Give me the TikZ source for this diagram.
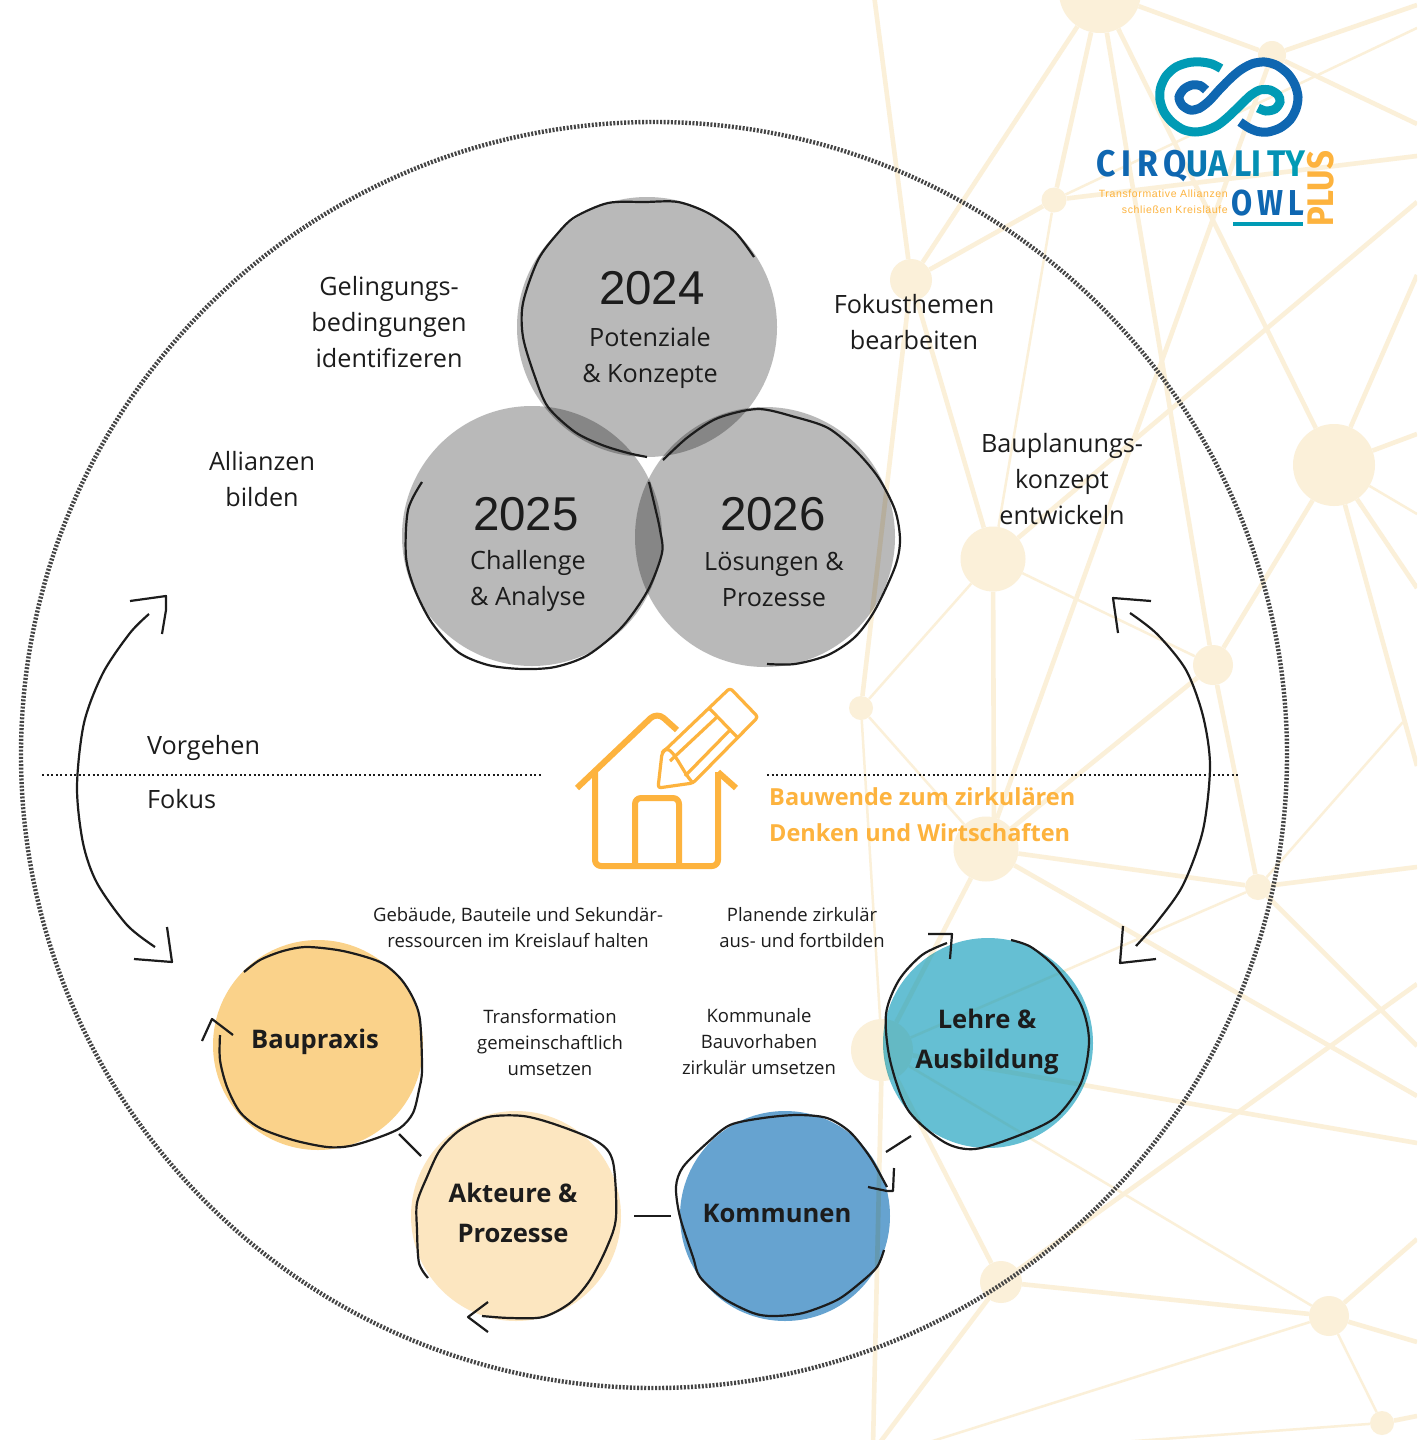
\documentclass[tikz,border=0pt]{standalone}
\usepackage{fontspec}
\setmainfont{Open Sans}
\newfontfamily\yearfont{Liberation Sans}
\newfontfamily\logofont[LetterSpace=17]{Fira Sans}
\newfontfamily\plusfont{Fira Sans}
\newfontfamily\claimfont[LetterSpace=6]{Liberation Sans}
\definecolor{netcream}{HTML}{FBF0D9}
\definecolor{inkdark}{HTML}{1C1C1C}
\definecolor{ringgrey}{HTML}{444444}
\definecolor{yeargrey}{HTML}{B9B9B9}
\definecolor{bauorange}{HTML}{FAD28A}
\definecolor{aktcream}{HTML}{FCE6C0}
\definecolor{komblue}{HTML}{66A3D0}
\definecolor{lehteal}{HTML}{65BFD3}
\definecolor{wendeorange}{HTML}{FDB33E}
\definecolor{logoteal}{HTML}{009BB5}
\definecolor{logoblue}{HTML}{0F67B1}
\tikzset{
  netthick/.style={draw=netcream,line width=4.6},
  netthin/.style={draw=netcream,line width=2.5},
  netnode/.style={circle,fill=netcream,inner sep=0,minimum size=#1},
  yearcircle/.style={circle,fill=yeargrey,inner sep=0,minimum size=260},
  focuscircle/.style={circle,fill=#1,inner sep=0,minimum size=210},
  sketch/.style={draw=inkdark,line width=2.2,line join=round},
  bridge/.style={draw=inkdark,line width=2.2},
  cuttext/.style={text=inkdark,align=center,font=\fontsize{25.2}{36}\selectfont},
  yeartext/.style={text=inkdark,font=\yearfont\fontsize{47.5}{50}\selectfont},
  smalltext/.style={text=inkdark,align=center,font=\fontsize{18.5}{26}\selectfont},
  focustext/.style={text=inkdark,align=center,font=\bfseries\fontsize{25.6}{39.5}\selectfont},
  iconline/.style={draw=wendeorange,line width=6,line join=round},
  pencilline/.style={draw=wendeorange,line width=3.2,line join=round}
}
\begin{document}
\begin{tikzpicture}[x=1pt,y=-1pt]
        \useasboundingbox (0,0) rectangle (1417,1440);
        \fill[white] (0,0) rectangle (1417,1440);
        \begin{scope}
          \clip (0,0) rectangle (1417,1440);
          \node[netnode=82] (n1)  at (1100,-8) {};
          \node[netnode=28] (n2)  at (1272,55) {};
          \node[netnode=25] (n3)  at (1054,200) {};
          \node[netnode=42] (n4)  at (911,280) {};
          \node[netnode=65] (n5)  at (993,559) {};
          \node[netnode=82] (n6)  at (1334,465) {};
          \node[netnode=40] (n7)  at (1213,665) {};
          \node[netnode=24] (n8)  at (861,708) {};
          \node[netnode=65] (n9)  at (986,849) {};
          \node[netnode=26] (n10) at (1258,887) {};
          \node[netnode=62] (n11) at (882,1050) {};
          \node[netnode=42] (n12) at (1001,1282) {};
          \node[netnode=40] (n13) at (1329,1316) {};
          \node[netnode=24] (n14) at (1382,1423) {};
          \coordinate (ea) at (1417,5);
          \coordinate (eb) at (1417,124);
          \coordinate (ec) at (1417,156);
          \coordinate (ed) at (874,-5);
          \coordinate (ee) at (1417,202);
          \coordinate (ef) at (1417,434);
          \coordinate (eg) at (1417,275);
          \coordinate (eh) at (1417,588);
          \coordinate (ei) at (1417,766);
          \coordinate (ej) at (1417,867);
          \coordinate (ek) at (1417,1096);
          \coordinate (el) at (1417,1046);
          \coordinate (em) at (1417,1143);
          \coordinate (en) at (873,1445);
          \coordinate (eo) at (1417,1239);
          \coordinate (ep) at (1417,1342);
          \coordinate (eq) at (1417,984);
          \coordinate (er) at (878,1445);
          \coordinate (es) at (1417,1416);
          \coordinate (et) at (1417,28);
          \coordinate (eu) at (1417,514);
          \coordinate (ev) at (1403,722);
          \coordinate (ew) at (1080,1445);
          \coordinate (ex) at (920,1445);
          \coordinate (ey) at (994,832);
          \foreach \from/\to in {n1/n4,n1/n3,n1/n7,n1/n6,n1/n2,n2/ea,n2/eb,n3/ec,n4/n3,n4/ed,n4/n5,n4/n8,
              n5/ey,n5/ee,n9/n2,n6/ef,n6/eg,n6/eh,n6/ei,n6/n7,n7/n9,n7/n10,n9/n10,n10/ej,n9/ek,n10/el,
              n9/n11,n11/em,n11/n12,n11/en,n13/n12,n13/eo,n13/ep,n12/eq,n12/er,n14/es}
            \draw[netthick] (\from) -- (\to);
          \foreach \from/\to in {n3/et,n3/n5,n5/n8,n5/n7,n6/eu,ev/n10,n11/n10,n8/n11,n8/n9,n11/n13,n13/n14,n14/ew,n13/ex}
            \draw[netthin] (\from) -- (\to);
        \end{scope}
        \node[draw=ringgrey,line width=4.4,dash pattern=on 2 off 1.6,circle,inner sep=0,minimum size=1266] (ring) at (654,755) {};
        \fill[white,opacity=.55] (988,1043) circle (104);
        \begin{scope}[blend mode=multiply]
          \node[yearcircle] (circleA) at (647,327) {};
          \node[yearcircle] (circleB) at (532,536) {};
          \node[yearcircle] (circleC) at (765,537) {};
          \node[focuscircle=bauorange] (baupraxis) at (318,1045) {};
          \node[focuscircle=aktcream]  (akteure)   at (516,1216) {};
          \node[focuscircle=komblue]   (kommunen)  at (785,1216) {};
          \node[focuscircle=lehteal]   (lehre)     at (988,1043) {};
        \end{scope}
        \draw[sketch] plot[smooth] coordinates {(754,257) (735,232) (708,213) (678,202) (645,202) (608,203) (575,217)
            (558,233) (538,260) (523,303) (523,337) (535,377) (548,407) (575,432) (602,445) (628,453) (647,457)};
        \draw[sketch] plot[smooth] coordinates {(422,482) (408,510) (406,557) (415,590) (432,623) (458,652) (488,665)
            (522,669) (555,667) (588,655) (622,627) (648,590) (662,553) (660,530) (655,507) (649,482)};
        \draw[sketch] plot[smooth] coordinates {(663,460) (688,437) (718,418) (758,409) (795,417) (828,428) (855,450)
            (878,477) (895,510) (900,540) (895,567) (875,610) (855,637) (828,655) (795,664) (767,664)};
        \draw[sketch] plot[smooth] coordinates {(244,972) (260,960) (283,951) (307,947) (343,951) (380,962) (400,978)
            (413,998) (420,1020) (422,1070) (419,1090) (413,1113) (400,1128) (377,1138) (350,1146) (327,1147)
            (293,1140) (260,1128) (240,1112) (227,1087) (220,1060) (220,1035)};
        \draw[sketch] (202,1041) -- (212,1019) -- (233,1035);
        \draw[sketch] plot[smooth] coordinates {(428,1278) (419,1263) (417,1230) (417,1203) (427,1177) (440,1150) (460,1130)
            (488,1117) (523,1116) (557,1125) (598,1142) (613,1162) (616,1217) (607,1247) (590,1280) (570,1303)
            (543,1317) (510,1318) (482,1316)};
        \draw[sketch] (488,1302) -- (468,1317) -- (488,1332);
        \draw[sketch] plot[smooth] coordinates {(884,1250) (877,1267) (860,1283) (837,1300) (803,1313) (773,1316) (753,1313)
            (723,1298) (700,1277) (693,1257) (680,1217) (676,1187) (683,1167) (707,1143) (730,1125) (763,1118)
            (797,1115) (827,1118) (850,1132) (870,1157) (887,1187)};
        \draw[sketch] (868,1187) -- (887,1191) -- (893,1191) -- (894,1168);
        \draw[sketch] plot[smooth] coordinates {(947,943) (922,955) (899,980) (886,1014) (890,1060) (908,1110) (944,1142) (975,1149)
            (1020,1135) (1056,1117) (1081,1083) (1089,1041) (1081,1005) (1056,968) (1031,947) (1011,940)};
        \draw[sketch] (928,934) -- (952,934) -- (950,959);
        \coordinate (bridgeAa) at (399,1134);
        \coordinate (bridgeAb) at (421,1156);
        \coordinate (bridgeBa) at (634,1216);
        \coordinate (bridgeBb) at (671,1216);
        \coordinate (bridgeCa) at (886,1152);
        \coordinate (bridgeCb) at (911,1136);
        \draw[bridge] (bridgeAa) -- (bridgeAb);
        \draw[bridge] (bridgeBa) -- (bridgeBb);
        \draw[bridge] (bridgeCa) -- (bridgeCb);
        \draw[sketch] plot[smooth] coordinates {(149,614) (130,633) (103,673) (84,723) (77,787) (83,843) (97,883) (127,925) (155,947)};
        \draw[sketch] (130,601) -- (166,596) -- (166,610) -- (162,634);
        \draw[sketch] (167,927) -- (172,962) -- (134,959);
        \draw[sketch] plot[smooth] coordinates {(1130,613) (1157,634) (1186,670) (1203,716) (1210,766) (1203,830) (1183,885) (1157,922) (1136,946)};
        \draw[sketch] (1151,601) -- (1113,598) -- (1118,633);
        \draw[sketch] (1123,926) -- (1120,963) -- (1156,959);
        \coordinate (splitAa) at (42,775);
        \coordinate (splitAb) at (543,775);
        \coordinate (splitBa) at (767,775);
        \coordinate (splitBb) at (1238,775);
        \draw[inkdark,line width=2,dash pattern=on 2 off 2.6] (splitAa) -- (splitAb);
        \draw[inkdark,line width=2,dash pattern=on 2 off 2.6] (splitBa) -- (splitBb);
        \node[yeartext] (yearA) at (652,288) {2024};
        \node[yeartext] (yearB) at (526,514) {2025};
        \node[yeartext] (yearC) at (773,514) {2026};
        \node[cuttext] (themeA) at (650,358) {Potenziale\\\& Konzepte};
        \node[cuttext] (themeB) at (528,581) {Challenge\\\& Analyse};
        \node[cuttext] (themeC) at (774,579) {Lösungen \&\\Prozesse};
        \node[cuttext] (stepA) at (389,322) {Gelingungs-\\bedingungen\\identifizeren};
        \node[cuttext] (stepB) at (914,322) {Fokusthemen\\bearbeiten};
        \node[cuttext] (stepC) at (262,479) {Allianzen\\bilden};
        \node[cuttext] (stepD) at (1062,479) {Bauplanungs-\\konzept\\entwickeln};
        \node[cuttext,anchor=west,inner sep=0] (vorgehen) at (147,748) {Vorgehen};
        \node[cuttext,anchor=west,inner sep=0] (fokus) at (147,799) {Fokus};
        \node[anchor=west,inner sep=0,align=left,text=wendeorange,font=\bfseries\fontsize{23.5}{36}\selectfont] (wende) at (769,815)
            {Bauwende zum zirkulären\\Denken und Wirtschaften};
        \node[smalltext] (noteA) at (518,928) {Gebäude, Bauteile und Sekundär-\\ressourcen im Kreislauf halten};
        \node[smalltext] (noteB) at (802,928) {Planende zirkulär\\aus- und fortbilden};
        \node[smalltext] (noteC) at (550,1042) {Transformation\\gemeinschaftlich\\umsetzen};
        \node[smalltext] (noteD) at (759,1042) {Kommunale\\Bauvorhaben\\zirkulär umsetzen};
        \node[focustext] (labelA) at (315,1042) {Baupraxis};
        \node[focustext] (labelB) at (513,1213) {Akteure \&\\Prozesse};
        \node[focustext] (labelC) at (777,1213) {Kommunen};
        \node[focustext] (labelD) at (987,1042) {Lehre \&\\Ausbildung};
        % house
        \draw[iconline,rounded corners=9] (577,788) -- (657,712) -- (677,730);
        \draw[iconline] (718,772) -- (736,788);
        \draw[iconline,rounded corners=6] (595,772) -- (595,866) -- (718,866) -- (718,772);
        \draw[iconline,rounded corners=6] (635,866) -- (635,798) -- (679,798) -- (679,866);
        \draw[pencilline,rounded corners=3] (662,753) -- (730,688) -- (758,717) -- (693,783) -- (658,788) -- cycle;
        \draw[pencilline] (709,708) -- (737,737);
        \draw[pencilline] (717,717) -- (670,761);
        \draw[pencilline] (730,730) -- (685,776);
        \draw[pencilline] (662,753) to[out=60,in=135] (693,783);
        % logo
        \draw[logoteal,line width=9] plot[smooth] coordinates {(1221,68.5) (1212,64) (1201,62) (1189,62.5) (1176,67) (1166,76)
            (1160.5,88) (1160,100) (1164,112) (1172,122) (1183,129.5) (1195,132) (1207,130) (1218,125) (1228,117) (1240,105.5)
            (1251,95) (1260,90) (1270,90) (1278,95) (1280,102) (1275,109) (1266,111) (1258,108)};
        \draw[logoblue,line width=9] plot[smooth] coordinates {(1240,122) (1249,128) (1258,131.5) (1268,132) (1280,128) (1290,120)
            (1296,109) (1298,97) (1295,85) (1288,74) (1277,65.5) (1265,62) (1253,63.5) (1242,69) (1232,77) (1220,89) (1209,101)
            (1199,108.5) (1190,110) (1182,105) (1179,97) (1184,89) (1192,85) (1200,85.5) (1206,90)};
        \node[inner sep=0,xscale=.91,transform shape,font=\logofont\bfseries\fontsize{37}{37}\selectfont] (logoA) at (1201,166)
            {\textcolor{logoblue}{CIRQ}\textcolor{logoteal!30!logoblue}{U}\textcolor{logoteal!55!logoblue}{AL}\textcolor{logoteal!80!logoblue}{IT}\textcolor{logoteal}{Y}};
        \node[inner sep=0,xscale=.85,transform shape,text=logoblue,font=\logofont\bfseries\fontsize{36}{36}\selectfont] (logoB) at (1268,203) {OWL};
        \coordinate (logobarA) at (1233,224);
        \coordinate (logobarB) at (1303,224);
        \draw[logoteal,line width=4] (logobarA) -- (logobarB);
        \node[inner sep=0,rotate=90,xscale=.89,transform shape,text=wendeorange,font=\plusfont\bfseries\fontsize{37}{37}\selectfont] (logoC) at (1321,189) {PLUS};
        \node[inner sep=0,anchor=east,text=wendeorange,font=\claimfont\fontsize{10.5}{12}\selectfont] (claimA) at (1228,194) {Transformative Allianzen};
        \node[inner sep=0,anchor=east,text=wendeorange,font=\claimfont\fontsize{10.5}{12}\selectfont] (claimB) at (1228,210) {schließen Kreisläufe};
      \end{tikzpicture}
\end{document}
